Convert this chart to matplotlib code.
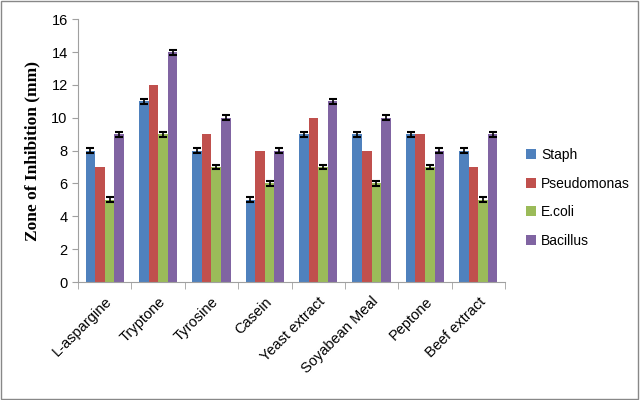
import matplotlib.pyplot as plt
import numpy as np

# data
categories = ['L-aspargine', 'Tryptone', 'Tyrosine', 'Casein',
              'Yeast extract', 'Soyabean Meal', 'Peptone', 'Beef extract']
staph = [8, 11, 8, 5, 9, 9, 9, 8]
pseudomonas = [7, 12, 9, 8, 10, 8, 9, 7]
ecoli = [5, 9, 7, 6, 7, 6, 7, 5]
bacillus = [9, 14, 10, 8, 11, 10, 8, 9]
err = 0.15

series = [('Staph', staph, '#4F81BD', True),
          ('Pseudomonas', pseudomonas, '#C0504D', False),
          ('E.coli', ecoli, '#9BBB59', True),
          ('Bacillus', bacillus, '#8064A2', True)]

plt.rcParams['font.family'] = ['Liberation Sans', 'DejaVu Sans']

fig = plt.figure(figsize=(6.4, 4.0), dpi=100)
ax = fig.add_axes([0.122, 0.295, 0.667, 0.657])

x = np.arange(len(categories))
w = 0.18
for i, (name, vals, col, has_err) in enumerate(series):
    pos = x + (i - 1.5) * w
    ax.bar(pos, vals, w, color=col, label=name, zorder=2)
    if has_err:
        ax.errorbar(pos, vals, yerr=err, fmt='none', ecolor='black',
                    elinewidth=1.2, capsize=3.2, capthick=1.5, zorder=3)

ax.set_xlim(-0.5, len(categories) - 0.5)
ax.set_ylim(0, 16)
ax.set_yticks(range(0, 17, 2))
ax.set_xticks(x)
ax.set_xticklabels(categories, rotation=45, ha='right', rotation_mode='anchor',
                   fontsize=10.5)
ax.set_xticks(np.arange(-0.5, len(categories)), minor=True)
ax.tick_params(axis='x', which='major', length=0, pad=9)
ax.tick_params(axis='x', which='minor', length=5, color='#A0A0A0')
ax.tick_params(axis='y', length=4, color='#A0A0A0', labelsize=10.5)
for s in ['top', 'right']:
    ax.spines[s].set_visible(False)
ax.spines['left'].set_color('#A0A0A0')
ax.spines['bottom'].set_color('#A0A0A0')
ax.set_ylabel('Zone of Inhibition (mm)', family='Liberation Serif',
              fontweight='bold', fontsize=12.5, labelpad=8)

ax.legend(loc='center left', bbox_to_anchor=(1.02, 0.32), frameon=False,
          fontsize=10, handlelength=0.7, handleheight=0.7, labelspacing=1.05,
          handletextpad=0.4)

fig.patches.append(plt.Rectangle((0.002, 0.003), 0.995, 0.994, transform=fig.transFigure,
                                 fill=False, edgecolor='#888888', lw=1))
fig.savefig('out.png', dpi=100)
